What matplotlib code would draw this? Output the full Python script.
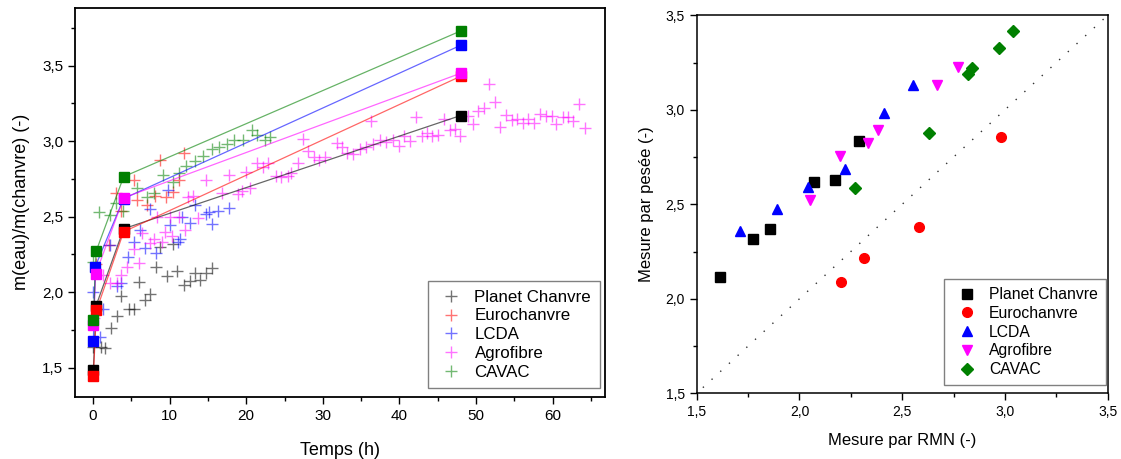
import matplotlib
matplotlib.use("Agg")
import matplotlib.pyplot as plt
from matplotlib.ticker import MultipleLocator, FuncFormatter
from matplotlib.lines import Line2D

plt.rcParams['font.family'] = ['Liberation Sans', 'DejaVu Sans']

names = ['Planet Chanvre', 'Eurochanvre', 'LCDA', 'Agrofibre', 'CAVAC']
colors = ['#000000', '#ff0000', '#0000ff', '#ff00ff', '#008000']

# --- left plot: continuous measurement (+) ---
t_planet = [0.0, 1.1, 1.6, 2.3, 3.1, 3.7, 4.7, 5.3, 6.0, 6.8, 7.4, 8.2, 8.8, 9.6,
            10.5, 11.0, 11.9, 12.6, 13.3, 14.0, 14.7, 15.5]
v_planet = [1.635, 1.64, 1.63, 1.76, 1.84, 1.975, 1.89, 1.89, 2.07, 1.95, 1.99, 2.17,
            2.30, 2.11, 2.32, 2.14, 2.05, 2.075, 2.13, 2.08, 2.13, 2.16]

t_euro = [0.4, 2.1, 3.0, 3.7, 5.3, 5.8, 7.0, 8.1, 8.8, 9.5, 10.5, 11.2, 11.9]
v_euro = [2.19, 2.31, 2.66, 2.54, 2.74, 2.61, 2.58, 2.64, 2.875, 2.63, 2.666, 2.74, 2.92]

t_lcda = [0.0, 0.9, 1.35, 2.2, 3.1, 3.7, 4.6, 5.3, 6.1, 6.8, 7.4, 8.2, 9.8, 10.0,
          11.1, 11.4, 11.6, 12.7, 13.3, 14.7, 15.1, 15.6, 16.3, 17.7]
v_lcda = [2.00, 1.705, 1.89, 2.31, 2.04, 2.06, 2.235, 2.335, 2.41, 2.29, 2.55, 2.26,
          2.68, 2.445, 2.335, 2.35, 2.50, 2.456, 2.58, 2.52, 2.53, 2.45, 2.54, 2.556]

t_agro = [0.1, 1.3, 2.2, 3.1, 3.7, 4.5, 5.3, 6.0, 6.4, 7.4, 7.9, 8.4, 9.0, 9.4, 10.0,
          10.3, 11.2, 12.0, 12.4, 13.0, 13.7, 14.8, 16.8, 17.8, 18.9, 19.5, 20.0, 20.5,
          21.4, 22.2, 22.9, 23.9, 24.6, 25.4, 25.9, 26.7, 27.4, 28.1, 28.9, 29.5, 30.3,
          31.8, 32.5, 33.1, 33.9, 34.8, 35.7, 36.3, 36.6, 37.5, 38.3, 39.1, 39.9, 40.6,
          41.4, 42.2, 42.9, 43.6, 44.3, 45.1, 45.8, 46.6, 47.3, 47.9, 48.9, 49.6, 50.2,
          51.0, 51.7, 52.5, 53.1, 53.9, 54.7, 55.4, 56.1, 56.8, 57.6, 58.3, 59.1, 59.9,
          60.5, 61.3, 62.0, 62.7, 63.4, 64.2]
v_agro = [1.83, 2.114, 2.059, 2.059, 2.114, 2.169, 2.284, 2.191, 2.39, 2.324, 2.35,
          2.50, 2.33, 2.40, 2.50, 2.37, 2.50, 2.41, 2.63, 2.64, 2.49, 2.74, 2.655, 2.776,
          2.65, 2.67, 2.798, 2.69, 2.858, 2.831, 2.858, 2.769, 2.765, 2.769, 2.787, 2.858,
          3.012, 2.937, 2.897, 2.875, 2.893, 2.986, 2.96, 2.924, 2.915, 2.946, 2.96, 3.134,
          2.981, 3.008, 2.997, 3.008, 2.968, 3.034, 3.004, 3.158, 3.034, 3.056, 3.034,
          3.041, 3.145, 3.074, 3.079, 3.034, 3.167, 3.114, 3.202, 3.218, 3.379, 3.258,
          3.092, 3.174, 3.14, 3.145, 3.123, 3.145, 3.123, 3.18, 3.167, 3.167, 3.114,
          3.162, 3.158, 3.134, 3.246, 3.09]

t_cavac = [0.0, 0.8, 2.2, 3.0, 3.9, 5.8, 7.0, 8.0, 9.1, 10.5, 11.2, 12.1, 13.3, 14.4,
           15.6, 16.5, 17.5, 18.4, 19.6, 20.7, 21.4, 22.4, 23.1]
v_cavac = [2.20, 2.53, 2.51, 2.59, 2.54, 2.69, 2.63, 2.66, 2.776, 2.73, 2.787, 2.836,
           2.87, 2.90, 2.946, 2.96, 2.98, 3.01, 3.01, 3.074, 3.04, 3.01, 3.03]

# --- left plot: weighing (squares + lines) ---
tw_planet = [0.05, 0.4, 4.0, 48.0]
vw_planet = [1.485, 1.91, 2.42, 3.17]
tw_euro = [0.05, 0.45, 4.0, 48.0]
vw_euro = [1.445, 1.88, 2.40, 3.43]
tw_lcda = [0.05, 0.3, 4.0, 48.0]
vw_lcda = [1.68, 2.17, 2.62, 3.635]
tw_agro = [0.05, 0.35, 4.0, 48.0]
vw_agro = [1.78, 2.12, 2.625, 3.45]
tw_cavac = [0.05, 0.4, 4.0, 48.0]
vw_cavac = [1.815, 2.27, 2.765, 3.73]

# --- right plot: RMN vs pesee ---
rmn_planet = [1.614, 1.776, 1.855, 2.071, 2.173, 2.292]
pes_planet = [2.117, 2.316, 2.37, 2.616, 2.629, 2.837]
rmn_euro = [2.201, 2.313, 2.58, 2.981]
pes_euro = [2.087, 2.217, 2.382, 2.858]
rmn_lcda = [1.711, 1.891, 2.043, 2.223, 2.413, 2.551]
pes_lcda = [2.36, 2.475, 2.593, 2.685, 2.985, 3.131]
rmn_agro = [2.051, 2.199, 2.332, 2.381, 2.671, 2.770]
pes_agro = [2.523, 2.756, 2.823, 2.893, 3.133, 3.228]
rmn_cavac = [2.272, 2.632, 2.822, 2.841, 2.971, 3.041]
pes_cavac = [2.586, 2.879, 3.19, 3.22, 3.329, 3.417]

cont = [(t_planet, v_planet), (t_euro, v_euro), (t_lcda, v_lcda),
        (t_agro, v_agro), (t_cavac, v_cavac)]
weigh = [(tw_planet, vw_planet), (tw_euro, vw_euro), (tw_lcda, vw_lcda),
         (tw_agro, vw_agro), (tw_cavac, vw_cavac)]
compare = [(rmn_planet, pes_planet, 's', 6.5), (rmn_euro, pes_euro, 'o', 7),
           (rmn_lcda, pes_lcda, '^', 7.5), (rmn_agro, pes_agro, 'v', 7.5),
           (rmn_cavac, pes_cavac, 'D', 6)]

comma = FuncFormatter(lambda v, p: f"{v:.1f}".replace('.', ','))

fig = plt.figure(figsize=(11.21, 4.59), dpi=100)
W, H = 1121, 459
ax1 = fig.add_axes([75 / W, 1 - 396.7 / H, (605 - 75) / W, (396.7 - 8) / H])
ax2 = fig.add_axes([696.7 / W, 1 - 393.3 / H, 411 / W, 378 / H])

# Left plot
for (t, v), c in zip(cont, colors):
    ax1.plot(t, v, ls='none', marker='+', ms=8, mew=1, color=c, alpha=0.55)
for (t, v), c in zip(weigh, colors):
    ax1.plot(t, v, ls='-', lw=0.9, color=c, alpha=0.6, zorder=3)
for (t, v), c in zip(weigh, colors):
    ax1.plot(t, v, ls='none', marker='s', ms=6.5, color=c, mec=c, zorder=4)

ax1.set_xlim(-2.35, 66.84)
ax1.set_ylim(1.308, 3.882)
ax1.xaxis.set_major_locator(MultipleLocator(10))
ax1.xaxis.set_minor_locator(MultipleLocator(5))
ax1.yaxis.set_major_locator(MultipleLocator(0.5))
ax1.yaxis.set_minor_locator(MultipleLocator(0.25))
ax1.yaxis.set_major_formatter(comma)
ax1.tick_params(which='both', direction='out', labelsize=11, width=1)
ax1.tick_params(which='major', length=5)
ax1.tick_params(which='minor', length=3)
ax1.set_xlabel('Temps (h)', fontsize=13, labelpad=14)
ax1.set_ylabel('m(eau)/m(chanvre) (-)', fontsize=13, labelpad=9)
for s in ax1.spines.values():
    s.set_linewidth(1.3)

handles1 = [Line2D([], [], ls='none', marker='+', ms=8, mew=1, color=c, alpha=0.55)
            for c in colors]
leg1 = ax1.legend(handles1, names, loc='lower right', bbox_to_anchor=(0.99, 0.022),
                  fontsize=12.2, frameon=True, fancybox=False, framealpha=1,
                  borderpad=0.5, handlelength=1.8, handletextpad=0.46,
                  labelspacing=0.22, borderaxespad=0)
leg1.get_frame().set_edgecolor('#808080')
leg1.get_frame().set_linewidth(1)

# Right plot
ax2.plot([1.53, 3.48], [1.53, 3.48], ls=(0, (1, 7.5)), lw=1, color='#333333')
for (x, y, m, ms), c in zip(compare, colors):
    ax2.plot(x, y, ls='none', marker=m, ms=ms, color=c, mec=c)

ax2.set_xlim(1.5, 3.5)
ax2.set_ylim(1.5, 3.5)
for axis in (ax2.xaxis, ax2.yaxis):
    axis.set_major_locator(MultipleLocator(0.5))
    axis.set_minor_locator(MultipleLocator(0.25))
    axis.set_major_formatter(comma)
ax2.tick_params(which='both', direction='out', labelsize=10, width=1)
ax2.tick_params(which='major', length=5)
ax2.tick_params(which='minor', length=3)
ax2.set_xlabel('Mesure par RMN (-)', fontsize=12, labelpad=10)
ax2.set_ylabel('Mesure par pesée (-)', fontsize=12, labelpad=8)
for s in ax2.spines.values():
    s.set_linewidth(1.1)

handles2 = [Line2D([], [], ls='none', marker=m, ms=ms, color=c, mec=c)
            for (x, y, m, ms), c in zip(compare, colors)]
leg2 = ax2.legend(handles2, names, loc='lower right', bbox_to_anchor=(0.995, 0.022),
                  fontsize=11.3, frameon=True, fancybox=False, framealpha=1,
                  borderpad=0.5, handlelength=1.9, handletextpad=0.47,
                  labelspacing=0.24, borderaxespad=0)
leg2.get_frame().set_edgecolor('#808080')
leg2.get_frame().set_linewidth(1)

fig.savefig('out.png', dpi=100)
